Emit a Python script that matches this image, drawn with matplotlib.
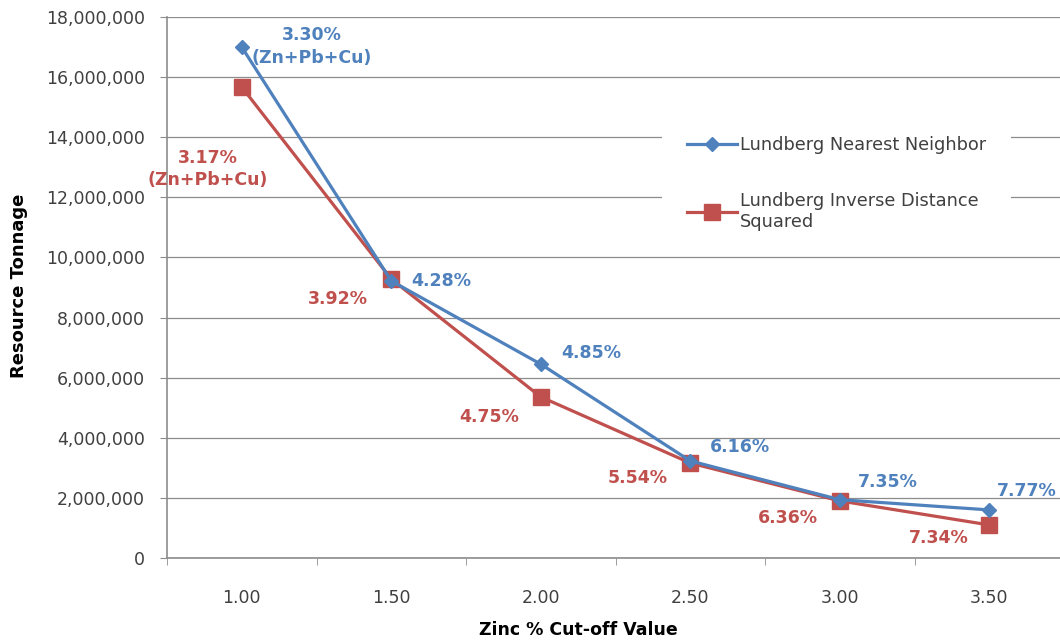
import numpy as np
import matplotlib
matplotlib.use('Agg')
import matplotlib.pyplot as plt
from matplotlib.ticker import FuncFormatter

# cut-off grades and tonnage for both estimation methods
cutoffs = ['1.00', '1.50', '2.00', '2.50', '3.00', '3.50']
nn_tonnage = [17000000, 9220000, 6450000, 3230000, 1940000, 1600000]
ids_tonnage = [15670000, 9280000, 5360000, 3160000, 1900000, 1100000]
nn_grades = ['3.30%\n(Zn+Pb+Cu)', '4.28%', '4.85%', '6.16%', '7.35%', '7.77%']
ids_grades = ['3.17%\n(Zn+Pb+Cu)', '3.92%', '4.75%', '5.54%', '6.36%', '7.34%']

blue = '#4F81BD'
red = '#C0504D'
grey = '#8C8C8C'
txt = '#404040'

fig = plt.figure(figsize=(10.6, 6.4), dpi=100)
ax = fig.add_axes([167/1060, 82/640, (1064-167)/1060, 541/640])

x = np.arange(len(cutoffs))
ax.plot(x, nn_tonnage, color=blue, lw=2.3, marker='D', ms=7,
        label='Lundberg Nearest Neighbor', zorder=4)
ax.plot(x, ids_tonnage, color=red, lw=2.3, marker='s', ms=11,
        label='Lundberg Inverse Distance\nSquared', zorder=3)

# grade labels next to each point (pixel offsets)
nn_off = [(70, 1), (50, 0), (50, 11), (50, 14), (48, 18), (38, 19)]
ids_off = [(-34, -82), (-53, -20), (-52, -20), (-53, -15), (-52, -17), (-51, -13)]
for i in range(len(x)):
    ax.annotate(nn_grades[i], (x[i], nn_tonnage[i]), xytext=nn_off[i],
                textcoords='offset pixels', ha='center', va='center',
                color=blue, fontsize=12.5, fontweight='bold', linespacing=1.35,
                zorder=5)
    ax.annotate(ids_grades[i], (x[i], ids_tonnage[i]), xytext=ids_off[i],
                textcoords='offset pixels', ha='center', va='center',
                color=red, fontsize=12.5, fontweight='bold', linespacing=1.35,
                zorder=5)

ax.set_xlim(-0.5, len(x) - 0.5)
ax.set_ylim(0, 18000000)
ax.set_yticks(np.arange(0, 18000001, 2000000))
ax.yaxis.set_major_formatter(FuncFormatter(lambda v, p: f'{int(v):,}'))
ax.set_xticks(x)
ax.set_xticklabels(cutoffs)
ax.set_xticks(np.arange(-0.5, len(x), 1), minor=True)

ax.grid(axis='y', color=grey, lw=0.9)
ax.set_axisbelow(True)
for s in ['top', 'right']:
    ax.spines[s].set_visible(False)
for s in ['left', 'bottom']:
    ax.spines[s].set_color(grey)
    ax.spines[s].set_linewidth(1.2)

ax.tick_params(axis='y', length=5, color=grey, pad=11, labelsize=12.5,
               labelcolor=txt)
ax.tick_params(axis='x', which='major', length=0, pad=22, labelsize=12.5,
               labelcolor=txt)
ax.tick_params(axis='x', which='minor', length=5, color=grey)

leg = ax.legend(loc='upper left', bbox_to_anchor=(662/1060, 1 - 111/640),
                bbox_transform=fig.transFigure, borderaxespad=0,
                borderpad=1.4, fontsize=12.8, handlelength=2.8,
                handletextpad=0.2, labelspacing=2.15, frameon=True,
                fancybox=False)
leg.get_frame().set_facecolor('white')
leg.get_frame().set_edgecolor('none')
leg.get_frame().set_alpha(1)
for t in leg.get_texts():
    t.set_color(txt)

fig.text(578/1060, 1 - 630/640, 'Zinc % Cut-off Value', ha='center',
         va='center', fontsize=12.5, fontweight='bold',
         family=['Liberation Sans Narrow', 'DejaVu Sans'])
fig.text(19/1060, 1 - 286/640, 'Resource Tonnage', ha='center',
         va='center', rotation=90, fontsize=13, fontweight='bold',
         family=['Liberation Sans Narrow', 'DejaVu Sans'])

fig.savefig('out.png', dpi=100, facecolor='white')
